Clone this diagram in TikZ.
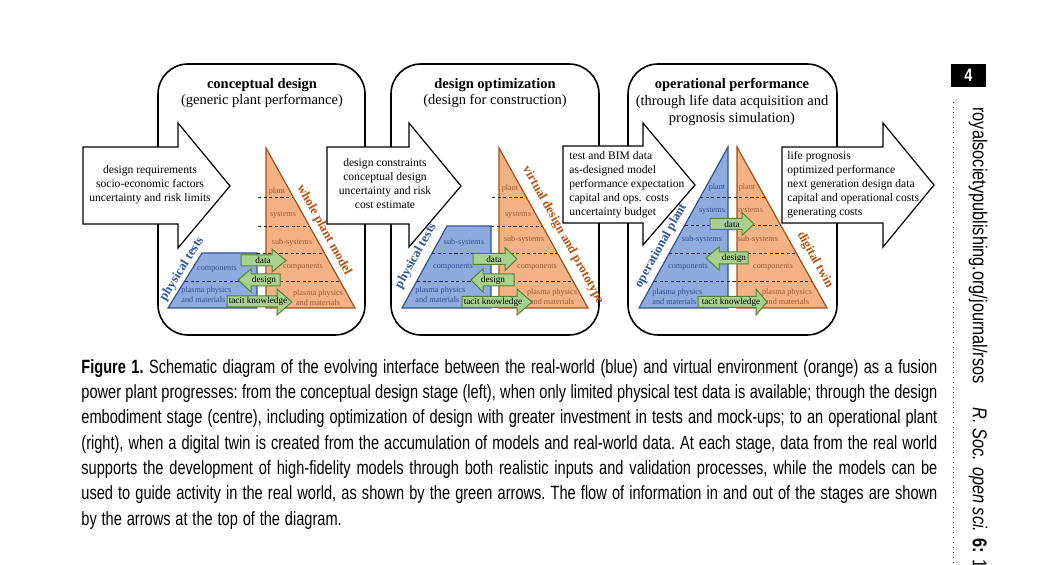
\documentclass[tikz,border=0pt]{standalone}
\usepackage{fontspec}
\setmainfont{Liberation Serif}
\newfontfamily\capfont[FakeStretch=0.76,WordSpace={1.2}]{Liberation Sans}
\newfontfamily\headfont[FakeStretch=0.815]{Liberation Sans}
\definecolor{plantblue}{HTML}{8FAADC}
\definecolor{edgeblue}{HTML}{2F5597}
\definecolor{labelblue}{HTML}{2F4F8F}
\definecolor{modelorange}{HTML}{F4B183}
\definecolor{edgebrown}{HTML}{A0501A}
\definecolor{labelbrown}{HTML}{9A5A33}
\definecolor{namebrown}{HTML}{B4540F}
\definecolor{linkgreen}{HTML}{A9D18E}
\definecolor{edgegreen}{HTML}{548235}
\begin{document}
\begin{tikzpicture}[x=0.5pt,y=-0.5pt,
  panel/.style={draw=black,line width=0.8pt,rounded corners=15pt},
  bigarrow/.style={draw=black,fill=white,line width=0.6pt},
  blueside/.style={fill=plantblue,draw=edgeblue,line width=0.6pt},
  orangeside/.style={fill=modelorange,draw=edgebrown,line width=0.6pt},
  level/.style={dash pattern=on 1.6pt off 1.2pt,line width=0.4pt,black!85},
  greenarrow/.style={fill=linkgreen,draw=edgegreen,line width=0.5pt},
  stagetitle/.style={align=center,font=\fontsize{7.25}{8.3}\selectfont,inner sep=0pt},
  flowtext/.style={font=\fontsize{5.8}{7}\selectfont,inner sep=0pt},
  bluelabel/.style={text=labelblue,font=\fontsize{4.1}{5}\selectfont,inner sep=0pt},
  orangelabel/.style={text=labelbrown,font=\fontsize{4.1}{5}\selectfont,inner sep=0pt},
  linklabel/.style={font=\fontsize{4.6}{5}\selectfont,inner sep=0pt},
  realname/.style={text=edgeblue,font=\bfseries\fontsize{6.4}{7}\selectfont,inner sep=0pt},
  virtualname/.style={text=namebrown,font=\bfseries\fontsize{6.4}{7}\selectfont,inner sep=0pt}]
\fill[white] (0,0) rectangle (1045,565);
\useasboundingbox (0,0) rectangle (1045,565);
% stage panels
\draw[panel] (158,64) rectangle (365,335);
\draw[panel] (391,64) rectangle (599,335);
\draw[panel] (628,64) rectangle (837,335);
\node[stagetitle] (titleA) at (262,93) {\textbf{conceptual design}\\(generic plant performance)};
\node[stagetitle] (titleB) at (495,93) {\textbf{design optimization}\\(design for construction)};
\node[stagetitle] (titleC) at (732,102) {\textbf{operational performance}\\(through life data acquisition and\\prognosis simulation)};
% information flow in and out
\draw[bigarrow] (83,147) -- (178,147) -- (178,123) -- (230,186) -- (178,248) -- (178,224) -- (83,224) -- cycle;
\draw[bigarrow] (327,147) -- (409,147) -- (409,123) -- (461,186) -- (409,247) -- (409,224) -- (327,224) -- cycle;
\draw[bigarrow] (563,146) -- (643,146) -- (643,123) -- (695,185) -- (643,245) -- (643,223) -- (563,223) -- cycle;
\draw[bigarrow] (782,147) -- (883,147) -- (883,123) -- (934,185) -- (883,247) -- (883,223) -- (782,223) -- cycle;
\node[flowtext,align=center] (inA) at (150,185) {design requirements\\socio-economic factors\\uncertainty and risk limits};
\node[flowtext,align=center] (inB) at (385,184) {design constraints\\conceptual design\\uncertainty and risk\\cost estimate};
\node[flowtext,align=left,anchor=west] (inC) at (569,185) {test and BIM data\\as-designed model\\performance expectation\\capital and ops. costs\\uncertainty budget};
\node[flowtext,align=left,anchor=west] (outC) at (787,185) {life prognosis\\optimized performance\\next generation design data\\capital and operational costs\\generating costs};
% conceptual design
\draw[orangeside] (266,148) -- (355,308) -- (266,308) -- cycle;
\draw[blueside] (168,308) -- (202,253) -- (257,253) -- (257,308) -- cycle;
\draw[level] (258,197) -- (293,197);
\draw[level] (258,226) -- (309,226);
\draw[level] (257,253) -- (324,253);
\draw[level] (185,281) -- (340,281);
\node[orangelabel] (plantA) at (277,192) {plant};
\node[orangelabel] (systemsA) at (283,215) {systems};
\node[orangelabel] (subA) at (292,243) {sub-systems};
\node[orangelabel] (compA) at (303,267) {components};
\node[orangelabel,align=center] (plasmaA) at (318,298) {plasma physics\\and materials};
\node[bluelabel] (testcompA) at (217,269) {components};
\node[bluelabel,align=left,anchor=west] (testplasmaA) at (181,295) {plasma physics\\and materials};
\draw[greenarrow] (241,255) -- (272,255) -- (272,249) -- (286,260.5) -- (272,272) -- (272,266) -- (241,266) -- cycle;
\draw[greenarrow] (238,280) -- (251,269) -- (251,274) -- (280,274) -- (280,286) -- (251,286) -- (251,292) -- cycle;
\draw[greenarrow] (227,296) -- (277,296) -- (277,289) -- (292,302) -- (277,315) -- (277,307) -- (227,307) -- cycle;
\node[linklabel] (dataA) at (263,260) {data};
\node[linklabel] (designA) at (264,280) {design};
\node[linklabel] (tacitA) at (258,301.5) {tacit knowledge};
\node[realname,rotate=58] (testsA) at (182,269) {physical tests};
\node[virtualname,rotate=-61] (modelA) at (324,230) {whole plant model};
% design optimization
\draw[orangeside] (499,148) -- (588,308) -- (499,308) -- cycle;
\draw[blueside] (402,308) -- (447,226) -- (491,226) -- (491,308) -- cycle;
\draw[level] (492,197) -- (526,197);
\draw[level] (491,226) -- (542,226);
\draw[level] (432,253) -- (557,253);
\draw[level] (417,281) -- (573,281);
\node[orangelabel] (plantB) at (510,189) {plant};
\node[orangelabel] (systemsB) at (518,215) {systems};
\node[orangelabel] (subB) at (524,240) {sub-systems};
\node[orangelabel] (compB) at (537,267) {components};
\node[orangelabel,align=center] (plasmaB) at (552,297) {plasma physics\\and materials};
\node[bluelabel] (testsubB) at (464,243) {sub-systems};
\node[bluelabel] (testcompB) at (453,267) {components};
\node[bluelabel,align=left,anchor=west] (testplasmaB) at (415,295) {plasma physics\\and materials};
\draw[greenarrow] (473,253.5) -- (505,253.5) -- (505,247.5) -- (517,259) -- (505,270.5) -- (505,264.5) -- (473,264.5) -- cycle;
\draw[greenarrow] (471,280) -- (483,269) -- (483,274) -- (514,274) -- (514,286) -- (483,286) -- (483,292) -- cycle;
\draw[greenarrow] (462,296.5) -- (517,296.5) -- (517,289) -- (532,302) -- (517,315) -- (517,307.5) -- (462,307.5) -- cycle;
\node[linklabel] (dataB) at (494,259) {data};
\node[linklabel] (designB) at (493,280) {design};
\node[linklabel] (tacitB) at (493,302) {tacit knowledge};
\node[realname,rotate=61] (testsB) at (416,256) {physical tests};
\node[virtualname,rotate=-61] (modelB) at (563,235) {virtual design and prototype};
% operational performance
\draw[blueside] (728,147) -- (728,308) -- (639,308) -- cycle;
\draw[orangeside] (737,147) -- (827,308) -- (737,308) -- cycle;
\draw[level] (700,197) -- (765,197);
\draw[level] (685,225) -- (781,225);
\draw[level] (669,253) -- (796,253);
\draw[level] (654,281) -- (812,281);
\node[bluelabel] (plantC) at (717,188) {plant};
\node[bluelabel] (systemsC) at (712,211) {systems};
\node[bluelabel] (subC) at (702,240) {sub-systems};
\node[bluelabel] (compC) at (688,267) {components};
\node[bluelabel,align=left,anchor=west] (plasmaC) at (652,297) {plasma physics\\and materials};
\node[orangelabel] (twinplantC) at (747,188) {plant};
\node[orangelabel] (twinsystemsC) at (750,211) {systems};
\node[orangelabel] (twinsubC) at (758,240) {sub-systems};
\node[orangelabel] (twincompC) at (773,267) {components};
\node[orangelabel,align=center] (twinplasmaC) at (787,297) {plasma physics\\and materials};
\draw[greenarrow] (710,218.5) -- (742,218.5) -- (742,212.5) -- (754,224) -- (742,235.5) -- (742,229.5) -- (710,229.5) -- cycle;
\draw[greenarrow] (706,258) -- (719,247) -- (719,252) -- (748,252) -- (748,264) -- (719,264) -- (719,270) -- cycle;
\draw[greenarrow] (698,296.5) -- (756,296.5) -- (756,289) -- (767,302) -- (756,315) -- (756,307.5) -- (698,307.5) -- cycle;
\node[linklabel] (dataC) at (732,224) {data};
\node[linklabel] (designC) at (734,258) {design};
\node[linklabel] (tacitC) at (731,302) {tacit knowledge};
\node[realname,rotate=61] (plantnameC) at (661,246) {operational plant};
\node[virtualname,rotate=-61] (twinC) at (815,260) {digital twin};
% caption
\node[anchor=north west,inner sep=0pt,text width=428pt,align=justify,
  font=\capfont\fontsize{9.6}{12.65}\selectfont] (caption) at (81,359)
  {\frenchspacing\hyphenpenalty=10000 \textbf{Figure 1.} Schematic diagram of the evolving interface between the real-world (blue) and virtual environment (orange) as a fusion\linebreak
  power plant progresses: from the conceptual design stage (left), when only limited physical test data is available; through the design\linebreak
  embodiment stage (centre), including optimization of design with greater investment in tests and mock-ups; to an operational plant\linebreak
  (right), when a digital twin is created from the accumulation of models and real-world data. At each stage, data from the real world\linebreak
  supports the development of high-fidelity models through both realistic inputs and validation processes, while the models can be\linebreak
  used to guide activity in the real world, as shown by the green arrows. The flow of information in and out of the stages are shown\linebreak
  by the arrows at the top of the diagram.};
% running head
\fill[black] (951,64) rectangle (986,87);
\node[text=white,font=\headfont\bfseries\fontsize{9}{10}\selectfont] (pagenum) at (968.5,75.5) {4};
\draw[dotted,line width=0.5pt] (953,102) -- (953,565);
\node[rotate=-90,anchor=west,inner sep=0pt,font=\headfont\fontsize{10}{12}\selectfont] (journal) at (978,107)
  {royalsocietypublishing.org/journal/rsos\hspace{12pt}\textit{R. Soc. open sci.} \textbf{6:} 18};
\end{tikzpicture}
\end{document}
